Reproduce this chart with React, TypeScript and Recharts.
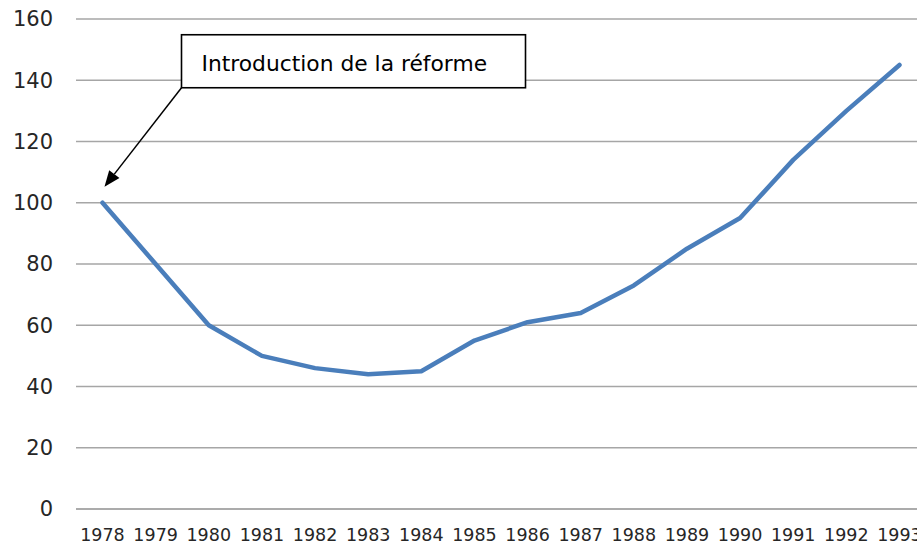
import React from 'react';
import { LineChart, Line, XAxis, YAxis, CartesianGrid, ReferenceDot } from 'recharts';

const years = ['1978','1979','1980','1981','1982','1983','1984','1985','1986','1987','1988','1989','1990','1991','1992','1993'];
const values = [100, 80, 60, 50, 46, 44, 45, 55, 61, 64, 73, 85, 95, 114, 130, 145];
const yTicks = [0, 20, 40, 60, 80, 100, 120, 140, 160];
const annotationText = 'Introduction de la réforme';
const annotationYear = '1978';
const annotationValue = 100;

const data = years.map((y, i) => ({ year: y, value: values[i] }));

const FONT = '"DejaVu Sans", sans-serif';

const Annotation = (props: any) => {
  const { cx, cy } = props;
  if (cx == null || cy == null) return null;
  const tipX = cx + 2;
  const tipY = cy - 16;
  const tailX = cx + 79;
  const tailY = cy - 115;
  const dx = tipX - tailX;
  const dy = tipY - tailY;
  const len = Math.sqrt(dx * dx + dy * dy);
  const ux = dx / len;
  const uy = dy / len;
  const headLen = 16;
  const headW = 6.5;
  const bx = tipX - ux * headLen;
  const by = tipY - uy * headLen;
  const p1x = bx - uy * headW;
  const p1y = by + ux * headW;
  const p2x = bx + uy * headW;
  const p2y = by - ux * headW;
  const boxX = cx + 79;
  const boxY = cy - 168;
  const boxW = 344;
  const boxH = 53;
  return (
    <g>
      <line x1={tailX} y1={tailY} x2={bx} y2={by} stroke="#000" strokeWidth={1.5} />
      <polygon points={`${tipX},${tipY} ${p1x},${p1y} ${p2x},${p2y}`} fill="#000" />
      <rect x={boxX} y={boxY} width={boxW} height={boxH} fill="#fff" stroke="#000" strokeWidth={1.6} />
      <text x={boxX + 20} y={boxY + 36} fontFamily={FONT} fontSize={21.8} fill="#000">
        {annotationText}
      </text>
    </g>
  );
};

export default function App() {
  return (
    <div style={{ position: 'fixed', left: 0, top: 0, width: 917, height: 546, overflow: 'hidden', background: '#fff' }}>
      <LineChart
        width={940}
        height={546}
        data={data}
        margin={{ top: 19, right: 14, bottom: 0, left: 0 }}
      >
        <CartesianGrid vertical={false} stroke="#a6a6a6" strokeWidth={1.5} />
        <XAxis
          dataKey="year"
          padding={{ left: 26.5, right: 26.5 }}
          height={37}
          axisLine={{ stroke: '#a6a6a6', strokeWidth: 1.5 }}
          tickLine={false}
          tickSize={0}
          tickMargin={20}
          interval={0}
          tick={{ fontFamily: FONT, fontSize: 17.5, fill: '#262626' }}
        />
        <YAxis
          domain={[0, 160]}
          ticks={yTicks}
          width={76}
          axisLine={false}
          tickLine={false}
          tickSize={0}
          tickMargin={23}
          interval={0}
          tick={{ fontFamily: FONT, fontSize: 21, fill: '#262626' }}
        />
        <Line
          type="linear"
          dataKey="value"
          stroke="#4a7ebb"
          strokeWidth={4.5}
          strokeLinecap="round"
          strokeLinejoin="round"
          dot={false}
          activeDot={false}
          isAnimationActive={false}
        />
        <ReferenceDot x={annotationYear} y={annotationValue} r={0} shape={Annotation} />
      </LineChart>
    </div>
  );
}
